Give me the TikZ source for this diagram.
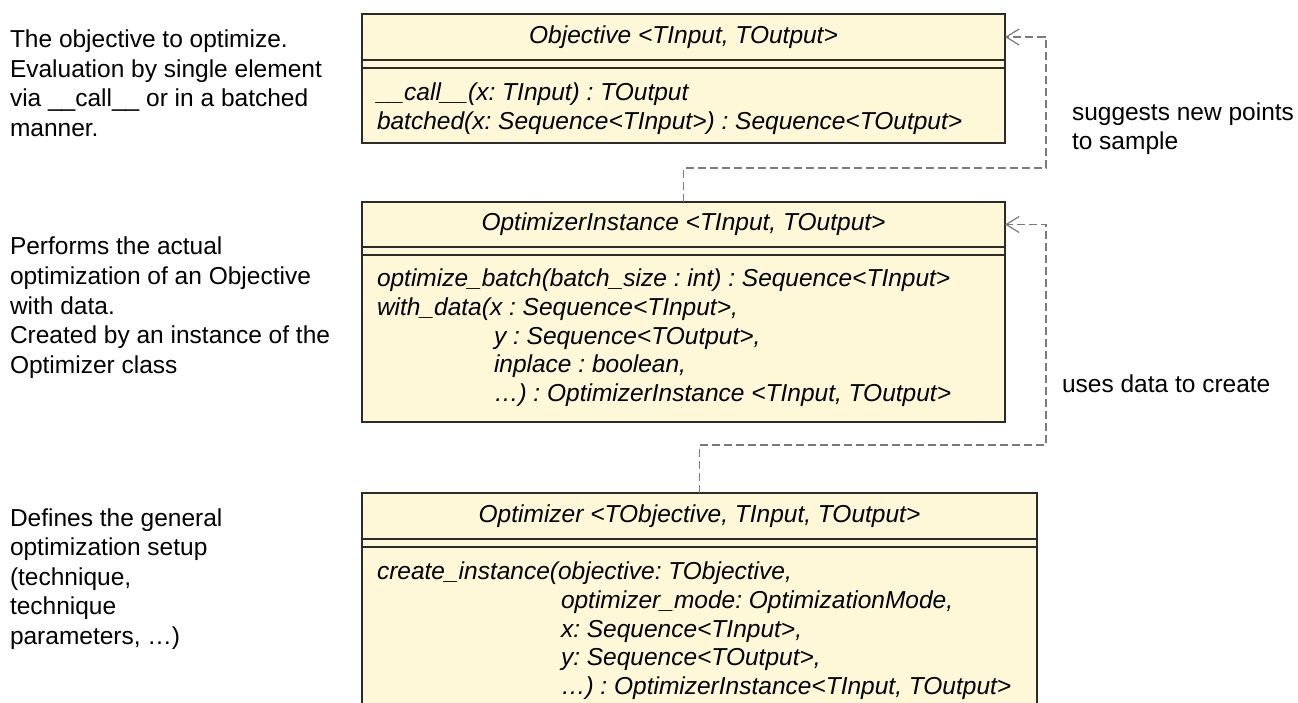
\documentclass[tikz,border=0pt]{standalone}
\usepackage{fontspec}
\setmainfont{Liberation Sans}
\usetikzlibrary{arrows.meta}
\definecolor{boxfill}{HTML}{FEF8D8}
\definecolor{boxline}{HTML}{2B2B2B}
\definecolor{depline}{HTML}{7A7A7A}
\frenchspacing
\begin{document}
\begin{tikzpicture}[x=1bp,y=-1bp,
  txt/.style={anchor=base west, inner sep=0pt, outer sep=0pt, font=\fontsize{24.5bp}{29.5bp}\selectfont\frenchspacing},
  mtxt/.style={txt, font=\fontsize{24.5bp}{29.5bp}\selectfont\itshape\frenchspacing},
  umlbox/.style={draw=boxline, line width=2.2bp, fill=boxfill, rectangle, inner sep=0pt, outer sep=0pt, anchor=north west},
  umltitle/.style={inner sep=0pt, outer sep=0pt, anchor=north, font=\fontsize{24.5bp}{29.5bp}\selectfont\itshape\frenchspacing},
  sepline/.style={draw=boxline, line width=2.2bp},
  dep/.style={draw=depline, line width=1.2bp, dash pattern=on 8bp off 4bp, -{Straight Barb[length=13bp,width=16bp]}},
  lbl/.style={txt}
]
\useasboundingbox (0,0) rectangle (1298,703);
\clip (0,0) rectangle (1298,703);
\fill[white] (0,0) rectangle (1298,703);

% ---- Objective
\node[umlbox, minimum width=643bp, minimum height=129bp] (obj) at (362,14) {};
\node[umltitle, minimum width=643bp, minimum height=46bp] (objT) at (obj.north) {Objective <TInput, TOutput>};
\draw[sepline] (objT.south west) -- (objT.south east);
\draw[sepline] ([yshift=-8bp]objT.south west) -- ([yshift=-8bp]objT.south east);
\node[mtxt] (objm1) at (377,100.5) {\_\_call\_\_(x: TInput) : TOutput};
\node[mtxt] (objm2) at (377,129.3) {batched(x: Sequence<TInput>) : Sequence<TOutput>};

% ---- OptimizerInstance
\node[umlbox, minimum width=643bp, minimum height=220bp] (oi) at (362,202) {};
\node[umltitle, minimum width=643bp, minimum height=45bp] (oiT) at (oi.north) {OptimizerInstance <TInput, TOutput>};
\draw[sepline] (oiT.south west) -- (oiT.south east);
\draw[sepline] ([yshift=-8bp]oiT.south west) -- ([yshift=-8bp]oiT.south east);
\node[mtxt] (oim1) at (377,286.5) {optimize\_batch(batch\_size : int) : Sequence<TInput>};
\node[mtxt] (oim2) at (377,315.3) {with\_data(x : Sequence<TInput>,};
\node[mtxt] (oim3) at (494,344.1) {y : Sequence<TOutput>,};
\node[mtxt] (oim4) at (494,372.9) {inplace : boolean,};
\node[mtxt] (oim5) at (494,401.7) {…) : OptimizerInstance <TInput, TOutput>};

% ---- Optimizer
\node[umlbox, minimum width=675bp, minimum height=240bp] (opt) at (362,493) {};
\node[umltitle, minimum width=675bp, minimum height=46bp] (optT) at (opt.north) {Optimizer <TObjective, TInput, TOutput>};
\draw[sepline] (optT.south west) -- (optT.south east);
\draw[sepline] ([yshift=-8bp]optT.south west) -- ([yshift=-8bp]optT.south east);
\node[mtxt] (optm1) at (377,579.5) {create\_instance(objective: TObjective,};
\node[mtxt] (optm2) at (561,608.3) {optimizer\_mode: OptimizationMode,};
\node[mtxt] (optm3) at (561,637.1) {x: Sequence<TInput>,};
\node[mtxt] (optm4) at (561,665.9) {y: Sequence<TOutput>,};
\node[mtxt] (optm5) at (561,694.7) {…) : OptimizerInstance<TInput, TOutput>};

% ---- left descriptions
\node[txt] (d1a) at (10,48)    {The objective to optimize.};
\node[txt] (d1b) at (10,77.5)  {Evaluation by single element};
\node[txt] (d1c) at (10,107)   {via \_\_call\_\_ or in a batched};
\node[txt] (d1d) at (10,136.5) {manner.};

\node[txt] (d2a) at (10,255)   {Performs the actual};
\node[txt] (d2b) at (10,284.5) {optimization of an Objective};
\node[txt] (d2c) at (10,314)   {with data.};
\node[txt] (d2d) at (10,343.5) {Created by an instance of the};
\node[txt] (d2e) at (10,373)   {Optimizer class};

\node[txt] (d3a) at (10,526)   {Defines the general};
\node[txt] (d3b) at (10,555.5) {optimization setup};
\node[txt] (d3c) at (10,585)   {(technique,};
\node[txt] (d3d) at (10,614.5) {technique};
\node[txt] (d3e) at (10,644)   {parameters, …)};

% ---- connectors
\coordinate (k1) at (1046,168);
\coordinate (k2) at (1046,445);
\draw[dep] (oi.north) |- (k1) |- (objT.east);
\draw[dep] (opt.north) |- (k2) |- (oiT.east);

\node[lbl] (l1a) at (1072,120.5) {suggests new points};
\node[lbl] (l1b) at (1072,150)   {to sample};
\node[lbl] (l2)  at (1062,392.5) {uses data to create};
\end{tikzpicture}
\end{document}
